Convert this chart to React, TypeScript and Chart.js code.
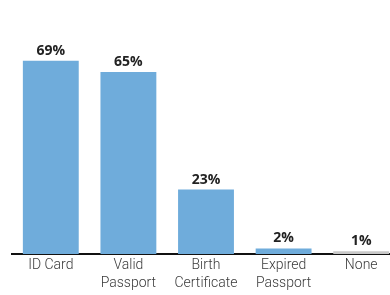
import React, { useEffect, useRef } from "react";
import { Chart, registerables } from "chart.js";

Chart.register(...registerables);

const categories: string[][] = [["ID Card"], ["Valid", "Passport"], ["Birth", "Certificate"], ["Expired", "Passport"], ["None"]];
const values: number[] = [69, 65, 23, 2, 1];
const barColors: string[] = ["#6facdb", "#6facdb", "#6facdb", "#6facdb", "#c8c8c8"];

const labelPlugin = {
  id: "valueLabels",
  afterDatasetsDraw(chart: any) {
    const ctx = chart.ctx;
    const meta = chart.getDatasetMeta(0);
    ctx.save();
    ctx.font = "bold 14px 'Open Sans', sans-serif";
    ctx.fillStyle = "#222";
    ctx.textAlign = "center";
    ctx.textBaseline = "bottom";
    meta.data.forEach((bar: any, i: number) => {
      ctx.fillText(values[i] + "%", bar.x, bar.y - 3);
    });
    ctx.restore();
  },
};

export default function App() {
  const ref = useRef<HTMLCanvasElement>(null);
  useEffect(() => {
    document.body.style.margin = "0";
    document.body.style.overflow = "hidden";
    const chart = new Chart(ref.current!, {
      type: "bar",
      data: {
        labels: categories,
        datasets: [
          {
            data: values,
            backgroundColor: barColors,
            categoryPercentage: 1,
            barPercentage: 0.72,
          },
        ],
      },
      options: {
        animation: false,
        responsive: false,
        maintainAspectRatio: false,
        layout: { padding: { top: 30, left: 12, right: 0, bottom: 0 } },
        plugins: { legend: { display: false }, tooltip: { enabled: false } },
        scales: {
          y: { display: false, min: 0, max: 80 },
          x: {
            grid: { display: false, drawTicks: false },
            border: { display: true, color: "#111", width: 2 },
            afterFit: (scale: any) => {
              scale.height = 41;
            },
            ticks: {
              color: "#3a3a3a",
              padding: 3,
              font: { family: "Roboto", size: 14, weight: 300, lineHeight: 1.25 },
              maxRotation: 0,
              autoSkip: false,
            },
          },
        },
      },
      plugins: [labelPlugin],
    });
    return () => chart.destroy();
  }, []);
  return (
    <div style={{ position: "absolute", left: 0, top: 0, width: 400, height: 295 }}>
      <canvas ref={ref} width={400} height={295} style={{ width: 400, height: 295 }} />
    </div>
  );
}
